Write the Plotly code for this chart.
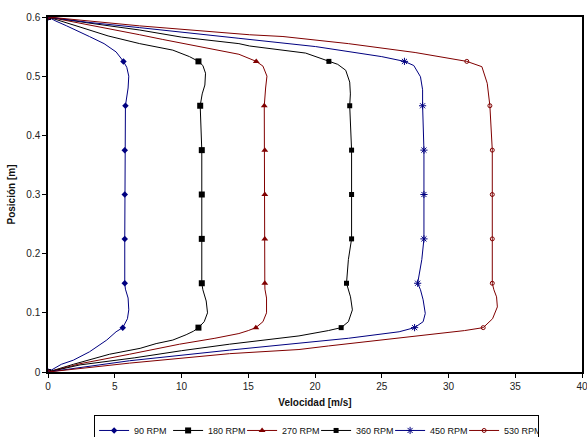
import numpy as np
import plotly.graph_objects as go

MARKER_Y = [0.0, 0.075, 0.15, 0.225, 0.3, 0.375, 0.45, 0.525, 0.6]

names = ["90 RPM", "180 RPM", "270 RPM", "360 RPM", "450 RPM", "530 RPM"]

# velocity [m/s] and position [m] read along each profile (bottom to top)
v_90 = [0, 1.0, 1.9, 3.1, 4.4, 5.1, 5.6, 5.95, 6.05, 6.0, 5.8, 5.75, 5.75, 5.75, 5.75, 5.8, 6.0, 6.05, 5.9, 5.65, 5.1, 4.2, 3.1, 2.2, 1.4, 0.6, 0]
y_90 = [0, 0.013, 0.02, 0.034, 0.054, 0.068, 0.075, 0.09, 0.105, 0.125, 0.14, 0.15, 0.225, 0.3, 0.375, 0.45, 0.48, 0.5, 0.515, 0.525, 0.541, 0.555, 0.567, 0.577, 0.585, 0.593, 0.6]

v_180 = [0, 1.9, 4.6, 6.9, 8.1, 9.35, 10.35, 10.9, 11.27, 11.7, 11.95, 11.85, 11.6, 11.52, 11.52, 11.52, 11.52, 11.4, 11.55, 11.75, 11.8, 11.6, 11.27, 10.6, 9.35, 6.87, 4.5, 2.4, 1.0, 0]
y_180 = [0, 0.013, 0.03, 0.040, 0.048, 0.054, 0.063, 0.069, 0.075, 0.085, 0.1, 0.12, 0.139, 0.15, 0.225, 0.3, 0.375, 0.45, 0.47, 0.485, 0.505, 0.518, 0.525, 0.533, 0.544, 0.555, 0.568, 0.583, 0.593, 0.6]

v_270 = [0, 2.4, 6.1, 9.85, 12.5, 14.3, 15.0, 15.57, 16.1, 16.37, 16.37, 16.25, 16.24, 16.24, 16.24, 16.24, 16.2, 16.3, 16.4, 16.1, 15.6, 14.3, 13.6, 10.5, 8.6, 6.87, 3.6, 1.5, 0]
y_270 = [0, 0.014, 0.03, 0.047, 0.057, 0.065, 0.07, 0.075, 0.085, 0.1, 0.125, 0.14, 0.15, 0.225, 0.3, 0.375, 0.45, 0.48, 0.5, 0.517, 0.525, 0.537, 0.54, 0.553, 0.562, 0.57, 0.584, 0.594, 0.6]

v_360 = [0, 2.4, 6.5, 10.0, 13.6, 16.0, 18.8, 21.0, 21.96, 22.5, 22.8, 22.66, 22.5, 22.36, 22.5, 22.74, 22.74, 22.74, 22.6, 22.65, 22.6, 22.3, 21.7, 21.04, 19.3, 15.1, 14.3, 10.0, 6.87, 3.0, 0]
y_360 = [0, 0.012, 0.024, 0.036, 0.047, 0.053, 0.061, 0.07, 0.075, 0.085, 0.105, 0.127, 0.139, 0.15, 0.19, 0.225, 0.3, 0.375, 0.45, 0.47, 0.49, 0.51, 0.52, 0.525, 0.539, 0.551, 0.555, 0.566, 0.578, 0.59, 0.6]

v_450 = [0, 6.1, 13.6, 18.8, 21.0, 22.5, 26.3, 27.46, 28.1, 28.26, 28.1, 27.9, 27.69, 28.0, 28.16, 28.16, 28.16, 28.06, 28.06, 27.9, 27.4, 26.7, 25.0, 20.05, 15.1, 14.3, 6.87, 3.0, 0]
y_450 = [0, 0.019, 0.037, 0.048, 0.053, 0.057, 0.068, 0.075, 0.085, 0.099, 0.122, 0.139, 0.15, 0.19, 0.225, 0.3, 0.375, 0.45, 0.477, 0.499, 0.518, 0.525, 0.533, 0.55, 0.561, 0.564, 0.582, 0.591, 0.6]

v_530 = [0, 6.1, 13.6, 18.8, 21.0, 26.3, 31.2, 32.6, 33.3, 33.66, 33.6, 33.4, 33.28, 33.28, 33.28, 33.28, 33.1, 32.9, 32.5, 31.37, 27.5, 22.5, 17.6, 15.1, 6.87, 3.0, 0]
y_530 = [0, 0.015, 0.031, 0.038, 0.044, 0.057, 0.07, 0.075, 0.09, 0.11, 0.127, 0.139, 0.15, 0.225, 0.3, 0.375, 0.45, 0.488, 0.516, 0.525, 0.54, 0.555, 0.567, 0.57, 0.585, 0.593, 0.6]

x_ticks = [0, 5, 10, 15, 20, 25, 30, 35, 40]
y_ticks = [0, 0.1, 0.2, 0.3, 0.4, 0.5, 0.6]

series = [
    (names[0], v_90, y_90, "#000080", "diamond", 5, None),
    (names[1], v_180, y_180, "#000000", "square", 6, None),
    (names[2], v_270, y_270, "#800000", "triangle-up", 6, None),
    (names[3], v_360, y_360, "#000000", "square", 5, None),
    (names[4], v_450, y_450, "#000080", "asterisk-open", 6, 1),
    (names[5], v_530, y_530, "#800000", "circle-open", 4, 1),
]

fig = go.Figure()
for name, vx, vy, col, sym, sz, lw in series:
    vx = np.array(vx, dtype=float)
    vy = np.array(vy, dtype=float)
    fig.add_trace(go.Scatter(x=vx, y=vy, mode="lines", line=dict(color=col, width=1),
                             showlegend=False, legendgroup=name, hoverinfo="skip"))
    mask = np.array([np.any(np.isclose(yy, MARKER_Y)) for yy in vy])
    mk = dict(symbol=sym, size=sz, color=col)
    if lw:
        mk["line"] = dict(color=col, width=lw)
    fig.add_trace(go.Scatter(x=vx[mask], y=vy[mask], mode="markers", marker=mk,
                             showlegend=False, legendgroup=name))
    fig.add_trace(go.Scatter(x=[None], y=[None], mode="lines+markers", name=name,
                             line=dict(color=col, width=1), marker=mk, legendgroup=name))

font_family = "Liberation Sans, Arial, sans-serif"
fig.update_layout(
    width=587, height=437,
    margin=dict(l=48, r=5, t=17, b=65, autoexpand=False),
    paper_bgcolor="white", plot_bgcolor="white",
    font=dict(family=font_family, size=10, color="#222"),
    showlegend=True,
    legend=dict(orientation="h", x=0.503, xanchor="center", y=-0.121, yanchor="top",
                bordercolor="black", borderwidth=1, font=dict(size=9, color="#111"),
                itemwidth=30, entrywidth=29, tracegroupgap=0),
    xaxis=dict(range=[0, 40], tickvals=x_ticks, showline=True, mirror=True,
               linecolor="black", linewidth=1.5, ticks="outside", ticklen=4,
               tickcolor="black", showgrid=False, zeroline=False,
               ticklabeloverflow="allow",
               title=dict(text="<b>Velocidad [m/s]</b>", font=dict(size=10, color="#111"), standoff=8)),
    yaxis=dict(range=[0, 0.6], tickvals=y_ticks, showline=True, mirror=True,
               linecolor="black", linewidth=1.5, ticks="outside", ticklen=4,
               tickcolor="black", showgrid=False, zeroline=False,
               ticklabeloverflow="allow",
               title=dict(text="<b>Posición [m]</b>", font=dict(size=10, color="#111"), standoff=9)),
)
fig.write_html("out.html")
